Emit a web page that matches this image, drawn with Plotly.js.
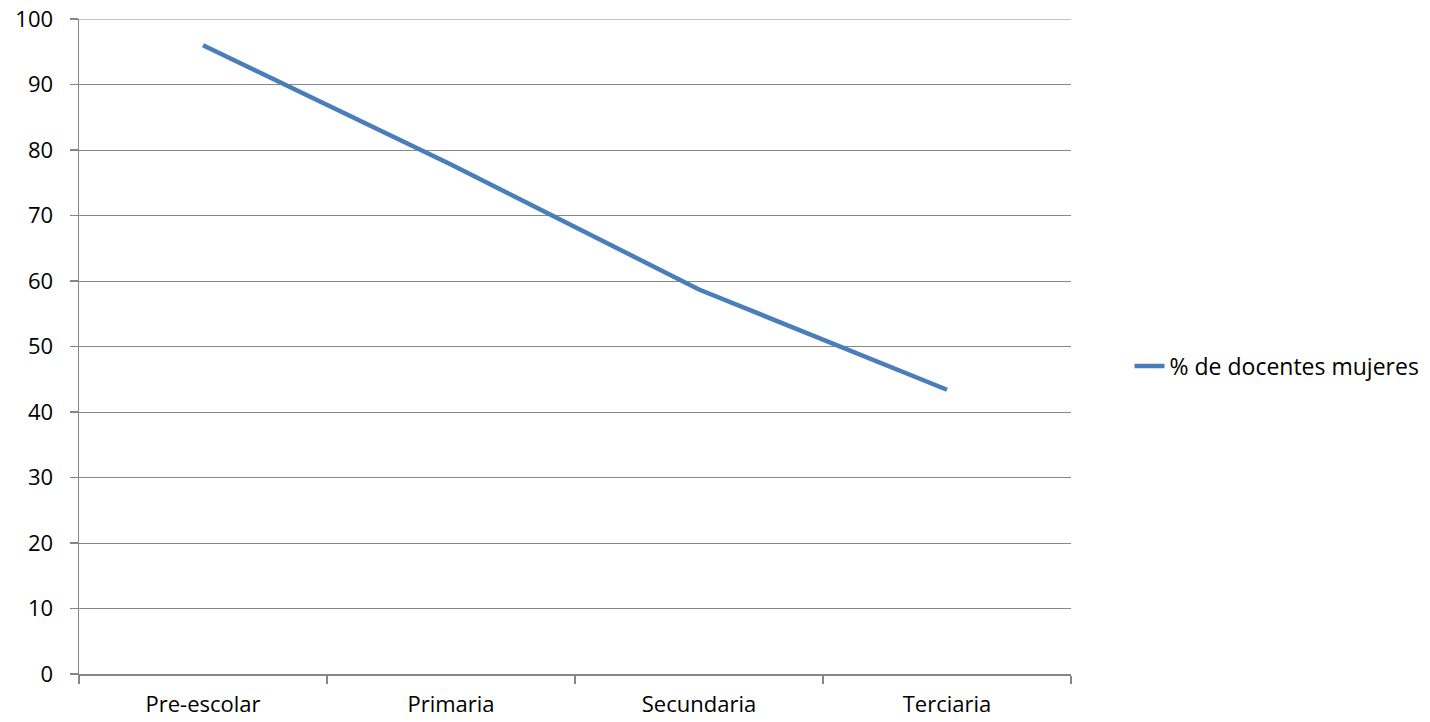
<!DOCTYPE html>
<html>
<head>
<meta charset="utf-8">
<script src="https://cdn.plot.ly/plotly-3.0.1.min.js"></script>
<style>html,body{margin:0;padding:0;background:#fff;}#chart{width:1430px;height:722px;}</style>
</head>
<body>
<div id="chart"></div>
<script>
var categories = ["Pre-escolar", "Primaria", "Secundaria", "Terciaria"];
var seriesName = "% de docentes mujeres";
var values = [96.0, 77.8, 58.7, 43.4];
var yTicks = [0, 10, 20, 30, 40, 50, 60, 70, 80, 90, 100];

var axisColor = "#868686";
var fontFamily = "'Open Sans', sans-serif";

var data = [{
  type: "scatter",
  mode: "lines",
  x: categories,
  y: values,
  name: seriesName,
  line: {color: "#4a7ebb", width: 4.5}
}];

var layout = {
  width: 1430,
  height: 722,
  margin: {l: 79, r: 359, t: 19, b: 48, autoexpand: false},
  paper_bgcolor: "#ffffff",
  plot_bgcolor: "#ffffff",
  font: {family: fontFamily, size: 22, color: "#000000"},
  showlegend: true,
  legend: {
    x: 1.059, y: 0.47, xanchor: "left", yanchor: "middle",
    font: {family: fontFamily, size: 23, color: "#000000"},
    bgcolor: "rgba(0,0,0,0)"
  },
  shapes: [{
    type: "line", xref: "paper", x0: 0, x1: 1, yref: "y", y0: 100, y1: 100,
    line: {color: axisColor, width: 1}
  }],
  xaxis: {
    type: "category",
    range: [-0.5, 3.5],
    showgrid: false,
    zeroline: false,
    showline: true,
    linecolor: axisColor,
    linewidth: 1.5,
    ticks: "outside",
    tickson: "boundaries",
    ticklen: 8,
    tickcolor: axisColor,
    tickwidth: 1.5,
    tickfont: {family: fontFamily, size: 22, color: "#000000"},
    ticklabelstandoff: 10,
    automargin: false,
    fixedrange: true
  },
  yaxis: {
    range: [0, 100],
    tickvals: yTicks,
    ticktext: yTicks.map(String),
    showgrid: true,
    gridcolor: axisColor,
    gridwidth: 1,
    zeroline: false,
    showline: true,
    linecolor: axisColor,
    linewidth: 1.5,
    ticks: "outside",
    ticklen: 8,
    tickcolor: axisColor,
    tickwidth: 1.5,
    tickfont: {family: fontFamily, size: 22, color: "#000000"},
    ticklabelstandoff: 12,
    automargin: false,
    fixedrange: true
  }
};

Plotly.newPlot("chart", data, layout, {displayModeBar: false, staticPlot: true});
</script>
</body>
</html>
